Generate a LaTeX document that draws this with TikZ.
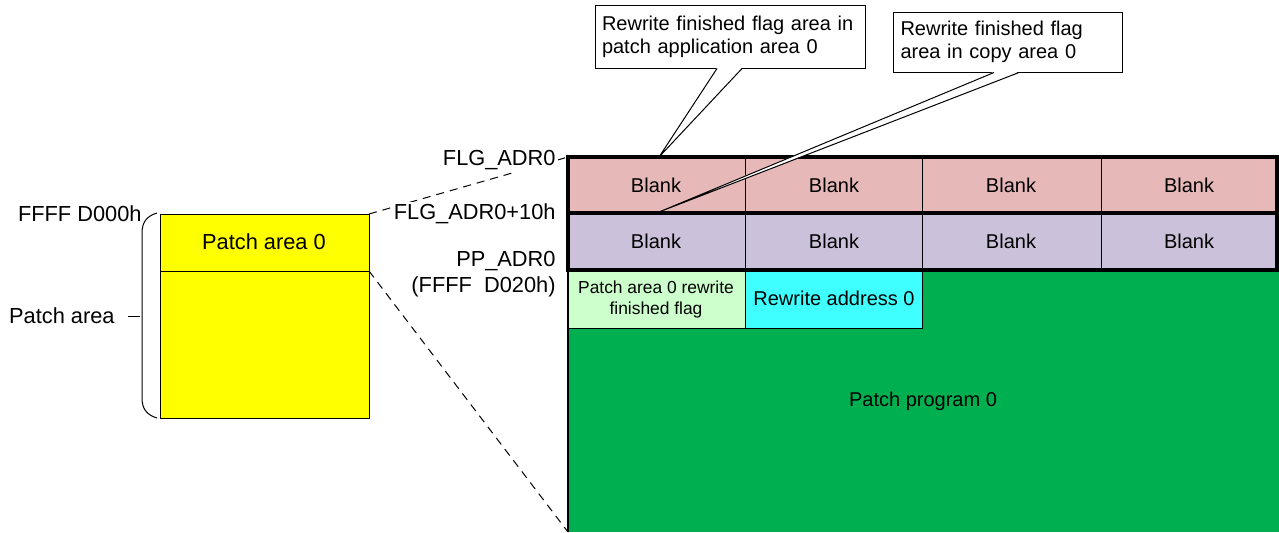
\documentclass[tikz,border=0pt]{standalone}
\usepackage{fontspec}
\setmainfont{Liberation Sans}
\definecolor{rowpink}{HTML}{E6B9B8}
\definecolor{rowlav}{HTML}{CCC1DA}
\definecolor{cellgreen}{HTML}{CCFFCC}
\definecolor{cellcyan}{HTML}{3FFFFF}
\definecolor{proggreen}{HTML}{00B050}
\definecolor{patchyellow}{HTML}{FFFF00}
\begin{document}
\begin{tikzpicture}[x=0.5pt,y=-0.5pt,
  font=\fontsize{10}{11.5}\selectfont,
  thinline/.style={draw=black,line width=0.5pt},
  thickline/.style={draw=black,line width=1.6pt},
  txt/.style={inner sep=0pt},
  bigtxt/.style={inner sep=0pt,font=\fontsize{10.9}{12.5}\selectfont},
  smalltxt/.style={inner sep=0pt,align=center,font=\fontsize{8.7}{10.5}\selectfont},
  addr/.style={fill=white,inner sep=1pt,anchor=east,font=\fontsize{10.9}{12.5}\selectfont},
  callout/.style={draw=black,line width=0.5pt,fill=white,align=left,anchor=center,inner ysep=0pt},
  dashline/.style={draw=black,line width=0.5pt,dash pattern=on 4pt off 3pt}]
\useasboundingbox (0,0) rectangle (1279,532);

% ---- patch program area (green)
\fill[proggreen] (568,270) rectangle (1279,532);
\draw[line width=0.9pt] (568,270) -- (568,532);
\node[txt] (prog) at (923,401) {Patch program 0};

% ---- small cells
\filldraw[fill=cellgreen,thinline] (568,270) rectangle (745,328);
\filldraw[fill=cellcyan,thinline] (745,270) rectangle (922,328);
\node[smalltxt] (flagcell) at (656,299) {Patch area 0 rewrite\\finished flag};
\node[txt] (addrcell) at (834,298) {Rewrite address 0};

% ---- flag rows
\fill[rowpink] (568,157) rectangle (1277,213);
\fill[rowlav] (568,213) rectangle (1277,270);
\foreach \x in {745,922,1101} \draw[thinline] (\x,157) -- (\x,270);
\draw[thickline] (568,157) rectangle (1277,270);
\draw[thickline] (568,213) -- (1277,213);
\foreach \cx/\n in {656/a,834/b,1011/c,1189/d} {
  \node[txt] (p\n) at (\cx,185) {Blank};
  \node[txt] (l\n) at (\cx,241) {Blank};
}
\coordinate (tabtl) at (568,157);
\coordinate (tabbl) at (568,532);

% ---- yellow patch area
\filldraw[fill=patchyellow,thinline] (160,214) rectangle (369,418);
\draw[thinline] (160,271) -- (369,271);
\coordinate (ytr) at (369,214);
\coordinate (ymr) at (369,271);
\node[bigtxt] (pa0) at (264,242) {Patch area 0};

% ---- dashed projection lines
\draw[dashline] (ytr) -- (tabtl);
\draw[dashline] (ymr) -- (tabbl);

% ---- address labels
\node[addr] (flg) at (558,160) {FLG\_ADR0};
\node[addr] (flg10) at (558,214) {FLG\_ADR0+10h};
\node[addr] (pp) at (558,261) {PP\_ADR0};
\node[addr] (ppv) at (558,287) {(FFFF\ \ D020h)};
\node[addr] (d000) at (144,214) {FFFF D000h};

% ---- brace
\draw[thinline] (157,213) .. controls (147,216) and (142,222) .. (142,233)
  -- (142,398) .. controls (142,409) and (147,415) .. (157,418);
\coordinate (bracetick) at (140,316);
\node[bigtxt,anchor=east] (parea) at (115,316) {Patch area};
\draw[thinline] (bracetick) -- ++(-12,0);

% ---- callouts
\node[callout,minimum width=135pt,minimum height=31.5pt,text width=128pt,inner xsep=3.5pt] (c1) at (730,36.5)
  {Rewrite finished flag area in\\patch application area 0};
\node[callout,minimum width=114.5pt,minimum height=30pt,text width=107pt,inner xsep=3.75pt] (c2) at (1007.5,42)
  {Rewrite finished flag\\area in copy area 0};
\coordinate (t1) at (659,157);
\coordinate (t2) at (659,212);
\fill[white] ([xshift=-6.5pt,yshift=0.4pt]c1.south) -- (t1) -- ([xshift=6pt,yshift=0.4pt]c1.south) -- cycle;
\draw[thinline] ([xshift=-6.5pt]c1.south) -- (t1) -- ([xshift=6pt]c1.south);
\fill[white] ([xshift=-6.75pt,yshift=0.4pt]c2.south) -- (t2) -- ([xshift=5.75pt,yshift=0.4pt]c2.south) -- cycle;
\draw[thinline] ([xshift=-6.75pt]c2.south) -- (t2) -- ([xshift=5.75pt]c2.south);
\end{tikzpicture}
\end{document}
